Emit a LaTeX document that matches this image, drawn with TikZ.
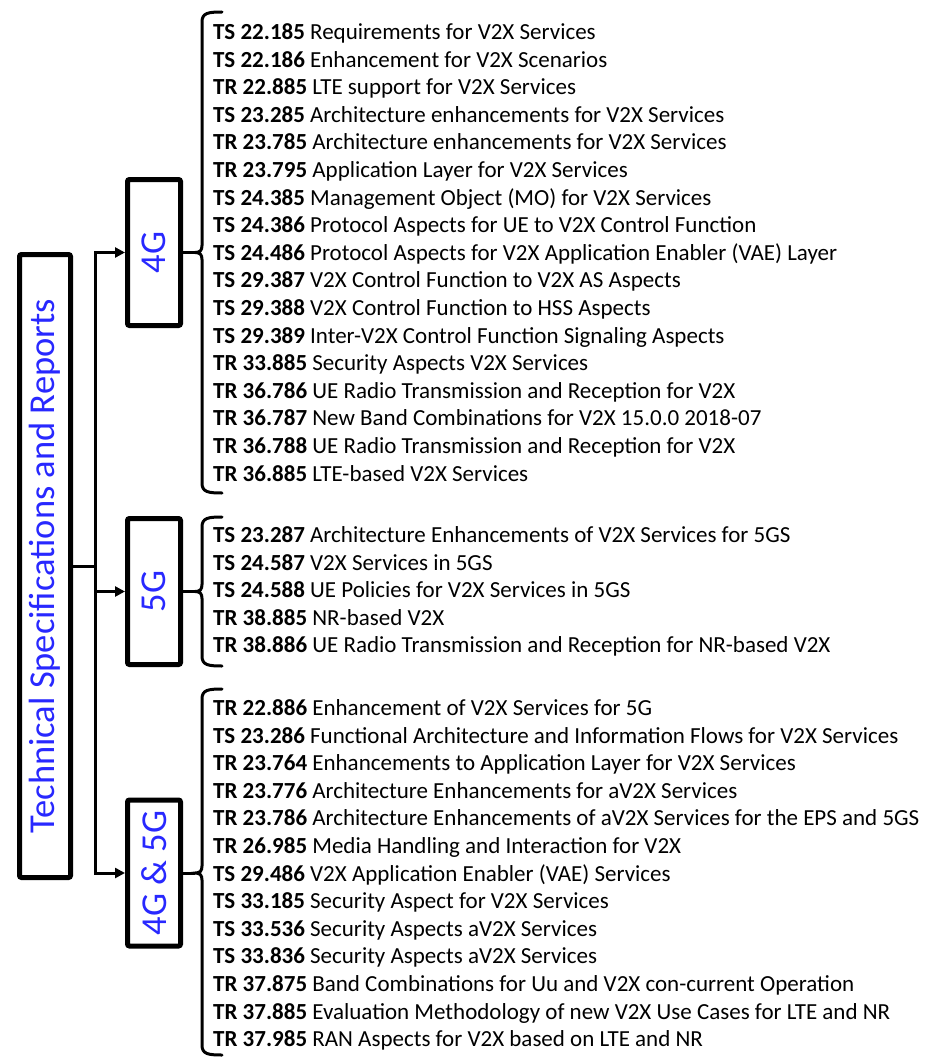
\documentclass[tikz,border=0pt]{standalone}
\usepackage{fontspec}
\setmainfont{Carlito}
\usetikzlibrary{arrows.meta}
\definecolor{lblue}{RGB}{40,40,255}
\newcommand\mybrace[4]{%
  \coordinate (#1) at (195,#3);
  \draw[brace] (222,#2) .. controls (208,#2) and (202,#2+1) .. (202,#2+10)
    -- (202,#3-7) .. controls (202,#3-2) and (200,#3) .. (#1)
    .. controls (200,#3) and (202,#3+2) .. (202,#3+7)
    -- (202,#4-10) .. controls (202,#4-1) and (208,#4) .. (222,#4);}
\begin{document}
\begin{tikzpicture}[x=1pt,y=-1pt,
  bx/.style={draw,line width=5pt,rounded corners=2pt,inner sep=0pt,rotate=90,
    text=lblue,font=\fontsize{36.5}{40}\selectfont},
  small/.style={bx,minimum width=146pt,minimum height=53pt},
  conn/.style={line width=3pt},
  arr/.style={conn,-{Triangle[length=10pt,width=10pt]}},
  brace/.style={line width=3pt,line cap=round},
  list/.style={anchor=west,align=left,inner sep=0pt,font=\fontsize{23}{27.6}\selectfont}]
\useasboundingbox (0,0) rectangle (926,1057);

\node[bx,minimum width=623pt,minimum height=51pt] (main) at (45,566) {Technical Specifications and Reports};
\node[small] (b4) at (154,252.5) {4G};
\node[small] (b5) at (154,591.5) {5G};
\node[small] (b45) at (154,873) {4G \& 5G};

\coordinate (jn) at (95,566);
\draw[conn] (main.south) -- (jn);
\draw[arr] (jn) |- (b4.north);
\draw[arr] (jn) |- (b5.north);
\draw[arr] (jn) |- (b45.north);

\mybrace{t4}{12}{252.5}{493}
\mybrace{t5}{517}{591.5}{666}
\mybrace{t45}{689}{873}{1055}
\draw[conn] (b4.south) -- (t4);
\draw[conn] (b5.south) -- (t5);
\draw[conn] (b45.south) -- (t45);

\node[list] (l4) at (213,252.5) {%
\textbf{TS 22.185} Requirements for V2X Services\\
\textbf{TS 22.186} Enhancement for V2X Scenarios\\
\textbf{TR 22.885} LTE support for V2X Services\\
\textbf{TS 23.285} Architecture enhancements for V2X Services\\
\textbf{TR 23.785} Architecture enhancements for V2X Services\\
\textbf{TR 23.795} Application Layer for V2X Services\\
\textbf{TS 24.385} Management Object (MO) for V2X Services\\
\textbf{TS 24.386} Protocol Aspects for UE to V2X Control Function\\
\textbf{TS 24.486} Protocol Aspects for V2X Application Enabler (VAE) Layer\\
\textbf{TS 29.387} V2X Control Function to V2X AS Aspects\\
\textbf{TS 29.388} V2X Control Function to HSS Aspects\\
\textbf{TS 29.389} Inter-V2X Control Function Signaling Aspects\\
\textbf{TR 33.885} Security Aspects V2X Services\\
\textbf{TR 36.786} UE Radio Transmission and Reception for V2X\\
\textbf{TR 36.787} New Band Combinations for V2X 15.0.0 2018-07\\
\textbf{TR 36.788} UE Radio Transmission and Reception for V2X\\
\textbf{TR 36.885} LTE-based V2X Services};

\node[list] (l5) at (213,591.5) {%
\textbf{TS 23.287} Architecture Enhancements of V2X Services for 5GS\\
\textbf{TS 24.587} V2X Services in 5GS\\
\textbf{TS 24.588} UE Policies for V2X Services in 5GS\\
\textbf{TR 38.885} NR-based V2X\\
\textbf{TR 38.886} UE Radio Transmission and Reception for NR-based V2X};

\node[list] (l45) at (213,875) {%
\textbf{TR 22.886} Enhancement of V2X Services for 5G\\
\textbf{TS 23.286} Functional Architecture and Information Flows for V2X Services\\
\textbf{TR 23.764} Enhancements to Application Layer for V2X Services\\
\textbf{TR 23.776} Architecture Enhancements for aV2X Services\\
\textbf{TR 23.786} Architecture Enhancements of aV2X Services for the EPS and 5GS\\
\textbf{TR 26.985} Media Handling and Interaction for V2X\\
\textbf{TS 29.486} V2X Application Enabler (VAE) Services\\
\textbf{TS 33.185} Security Aspect for V2X Services\\
\textbf{TS 33.536} Security Aspects aV2X Services\\
\textbf{TS 33.836} Security Aspects aV2X Services\\
\textbf{TR 37.875} Band Combinations for Uu and V2X con-current Operation\\
\textbf{TR 37.885} Evaluation Methodology of new V2X Use Cases for LTE and NR\\
\textbf{TR 37.985} RAN Aspects for V2X based on LTE and NR};
\end{tikzpicture}
\end{document}
